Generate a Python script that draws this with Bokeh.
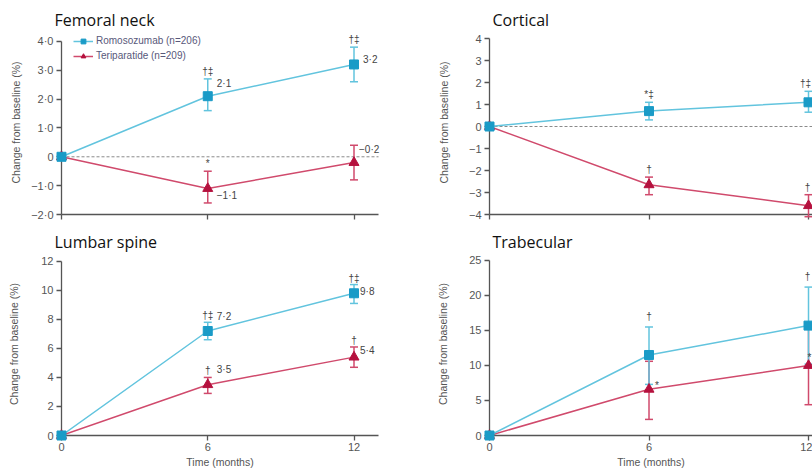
import math
from bokeh.plotting import figure
from bokeh.models import (ColumnDataSource, FixedTicker, Legend, LegendItem,
                          Range1d, LinearAxis)
from bokeh.layouts import row, column
from bokeh.embed import file_html
from bokeh.resources import INLINE
from bokeh.core.properties import value

# ---------------- data ----------------
times = [0, 6, 12]
romo_name = "Romosozumab (n=206)"
teri_name = "Teriparatide (n=209)"
x_ticks = [0, 6, 12]
x_tick_labels = ["0", "6", "12"]

# Femoral neck
fn_romo = [0, 2.1, 3.2]
fn_romo_lo = [0, 1.6, 2.6]
fn_romo_hi = [0, 2.7, 3.8]
fn_teri = [0, -1.1, -0.2]
fn_teri_lo = [0, -1.6, -0.8]
fn_teri_hi = [0, -0.5, 0.4]
fn_romo_sig = ["", "†‡", "†‡"]
fn_teri_sig = ["", "*", ""]
fn_romo_val = ["", "2·1", "3·2"]
fn_teri_val = ["", "−1·1", "−0·2"]
fn_yticks = [-2, -1, 0, 1, 2, 3, 4]
fn_yticklabels = ["−2·0", "−1·0", "0", "1·0", "2·0", "3·0", "4·0"]

# Cortical
co_romo = [0, 0.7, 1.1]
co_romo_lo = [0, 0.3, 0.65]
co_romo_hi = [0, 1.1, 1.6]
co_teri = [0, -2.65, -3.6]
co_teri_lo = [0, -3.1, -4.1]
co_teri_hi = [0, -2.3, -3.1]
co_romo_sig = ["", "*‡", "†‡"]
co_teri_sig = ["", "†", "†"]
co_romo_val = ["", "", ""]
co_teri_val = ["", "", ""]
co_yticks = [-4, -3, -2, -1, 0, 1, 2, 3, 4]
co_yticklabels = ["−4", "−3", "−2", "−1", "0", "1", "2", "3", "4"]

# Lumbar spine
ls_romo = [0, 7.2, 9.8]
ls_romo_lo = [0, 6.6, 9.1]
ls_romo_hi = [0, 7.8, 10.4]
ls_teri = [0, 3.5, 5.4]
ls_teri_lo = [0, 2.9, 4.7]
ls_teri_hi = [0, 4.0, 6.1]
ls_romo_sig = ["", "†‡", "†‡"]
ls_teri_sig = ["", "†", "†"]
ls_romo_val = ["", "7·2", "9·8"]
ls_teri_val = ["", "3·5", "5·4"]
ls_yticks = [0, 2, 4, 6, 8, 10, 12]
ls_yticklabels = ["0", "2", "4", "6", "8", "10", "12"]

# Trabecular
tb_romo = [0, 11.5, 15.7]
tb_romo_lo = [0, 7.3, 10.2]
tb_romo_hi = [0, 15.5, 21.2]
tb_teri = [0, 6.6, 10.0]
tb_teri_lo = [0, 2.3, 4.4]
tb_teri_hi = [0, 10.6, 15.6]
tb_romo_sig = ["", "†", "†"]
tb_teri_sig = ["", "", ""]
tb_romo_val = ["", "", ""]
tb_teri_val = ["", "*", "*"]
tb_yticks = [0, 5, 10, 15, 20, 25]
tb_yticklabels = ["0", "5", "10", "15", "20", "25"]

# ---------------- style ----------------
ROMO_MARK = "#1a9bc7"
ROMO_LINE = "#62c4de"
TERI_MARK = "#b5113e"
TERI_LINE = "#d04a6c"
AXIS_COL = "#555555"
TXT_COL = "#555555"
SANS = "Liberation Sans"
TITLE_FONT = "Open Sans"


def keep(labels):
    return [i for i, s in enumerate(labels) if s]


def make_panel(title, xr, yr, width, height, borders, title_offset,
               data, yticks, yticklabels, show_x, zero_line, ylab_standoff,
               sig_dy, sig_dx, romo_off, teri_off, legend_loc=None):
    bl, br, bt, bb = borders
    p = figure(width=width, height=height, output_backend="svg",
               toolbar_location=None, x_range=Range1d(*xr), y_range=Range1d(*yr),
               x_axis_type=None, y_axis_type=None,
               min_border_left=bl, min_border_right=br,
               min_border_top=bt, min_border_bottom=bb)
    p.outline_line_color = None
    p.background_fill_color = "white"
    p.border_fill_color = "white"
    p.xgrid.visible = False
    p.ygrid.visible = False

    p.title.text = title
    p.title.text_font = TITLE_FONT
    p.title.text_font_size = "16px"
    p.title.text_font_style = "normal"
    p.title.text_color = "#111111"
    p.title.align = "left"
    p.title.offset = title_offset
    p.title.standoff = 0

    yax = LinearAxis(bounds=(yticks[0], yticks[-1]),
                     ticker=FixedTicker(ticks=yticks),
                     major_label_overrides={t: l for t, l in zip(yticks, yticklabels)},
                     axis_label="Change from baseline (%)")
    xax = LinearAxis(ticker=FixedTicker(ticks=x_ticks),
                     major_label_overrides={t: l for t, l in zip(x_ticks, x_tick_labels)})
    for ax in (yax, xax):
        ax.axis_line_color = AXIS_COL
        ax.axis_line_width = 1.3
        ax.major_tick_line_color = AXIS_COL
        ax.major_tick_line_width = 1.3
        ax.major_tick_out = 5
        ax.major_tick_in = 0
        ax.minor_tick_line_color = None
        ax.major_label_text_font = SANS
        ax.major_label_text_font_size = "11px"
        ax.major_label_text_color = TXT_COL
        ax.axis_label_text_font = SANS
        ax.axis_label_text_font_size = "10.5px"
        ax.axis_label_text_font_style = "normal"
        ax.axis_label_text_color = TXT_COL
    yax.major_label_standoff = 3
    yax.axis_label_standoff = ylab_standoff
    if show_x:
        xax.major_label_standoff = 2
        xax.axis_label = "Time (months)"
        xax.axis_label_standoff = 2
    else:
        # ticks only on the upper panels: labels are not drawn
        xax.major_label_text_color = None
        xax.major_label_text_font_size = "1px"
        xax.major_label_standoff = 0
    p.add_layout(yax, "left")
    p.add_layout(xax, "below")

    (r, rlo, rhi, t, tlo, thi, rsig, tsig, rval, tval) = data

    if zero_line:
        p.ray(x=[times[0]], y=[0], length=0, angle=0, line_color="#8a8a8a",
              line_width=1, line_dash="3 2", level="underlay")

    tl = p.line(times, t, line_color=TERI_LINE, line_width=1.5)
    rl = p.line(times, r, line_color=ROMO_LINE, line_width=1.5)

    # error bars (95% CI)
    for lo, hi, lcol in ((tlo, thi, TERI_LINE), (rlo, rhi, ROMO_LINE)):
        idx = [i for i in range(len(times)) if hi[i] > lo[i]]
        es = ColumnDataSource(dict(x=[times[i] for i in idx], lo=[lo[i] for i in idx],
                                   hi=[hi[i] for i in idx]))
        p.segment(x0="x", y0="lo", x1="x", y1="hi", source=es, line_color=lcol,
                  line_width=1.5, level="overlay")
        p.scatter(x="x", y="lo", source=es, marker="dash", size=8, line_color=lcol,
                  line_width=1.5, level="overlay")
        p.scatter(x="x", y="hi", source=es, marker="dash", size=8, line_color=lcol,
                  line_width=1.5, level="overlay")

    # markers
    ts = p.scatter(times, t, marker="triangle", size=10, fill_color=TERI_MARK,
                   line_color=TERI_MARK, level="overlay")
    rs = p.scatter(times, r, marker="square", size=9, fill_color=ROMO_MARK,
                   line_color=ROMO_MARK, level="overlay")

    # significance symbols above upper CI
    for hi, sig, sdx in ((rhi, rsig, sig_dx[0]), (thi, tsig, sig_dx[1])):
        idx = keep(sig)
        if not idx:
            continue
        src = ColumnDataSource(dict(x=[times[i] for i in idx], y=[hi[i] for i in idx],
                                    s=[sig[i] for i in idx], dx=[sdx[i] for i in idx]))
        p.text(x="x", y="y", text="s", source=src, text_align="center",
               text_baseline="bottom", x_offset="dx", y_offset=sig_dy, level="overlay",
               text_font=value(SANS), text_font_size="10px", text_color="#444444")

    # value labels
    for vals, lab, off in ((r, rval, romo_off), (t, tval, teri_off)):
        idx = keep(lab)
        if not idx:
            continue
        src = ColumnDataSource(dict(x=[times[i] for i in idx], y=[vals[i] for i in idx],
                                    s=[lab[i] for i in idx],
                                    dx=[off[i][0] for i in idx], dy=[off[i][1] for i in idx]))
        p.text(x="x", y="y", text="s", source=src, x_offset="dx", y_offset="dy",
               text_align="left", text_baseline="middle", level="overlay",
               text_font=value(SANS), text_font_size="10px", text_color="#444444")

    if legend_loc is not None:
        leg = Legend(items=[LegendItem(label=romo_name, renderers=[rl, rs]),
                            LegendItem(label=teri_name, renderers=[tl, ts])],
                     location=legend_loc, orientation="vertical",
                     label_text_font=SANS, label_text_font_size="10px",
                     label_text_color="#58587a", glyph_width=20, glyph_height=12,
                     label_height=12, label_standoff=3, spacing=3, padding=0, margin=0,
                     border_line_color=None, background_fill_alpha=0)
        p.add_layout(leg, "center")
    return p


zero = (0, 0)
nodx = [0, 0, 0]
p1 = make_panel("Femoral neck", (0, 13.005), (-2, 4.377), 404, 228, (61, 26, 30, 12), -7,
                (fn_romo, fn_romo_lo, fn_romo_hi, fn_teri, fn_teri_lo, fn_teri_hi,
                 fn_romo_sig, fn_teri_sig, fn_romo_val, fn_teri_val),
                fn_yticks, fn_yticklabels, False, True, 6, -2, (nodx, nodx),
                [zero, (9, -13), (9, -5)], [zero, (9, 7), (5, -13)],
                legend_loc=(12, 152.5))
p2 = make_panel("Cortical", (0, 12.15), (-4, 4.364), 408, 228, (85, 0, 30, 14), 3,
                (co_romo, co_romo_lo, co_romo_hi, co_teri, co_teri_lo, co_teri_hi,
                 co_romo_sig, co_teri_sig, co_romo_val, co_teri_val),
                co_yticks, co_yticklabels, False, True, 16, -2, ([0, 0, -3], [0, 0, -1]),
                [zero, zero, zero], [zero, zero, zero])
p3 = make_panel("Lumbar spine", (0, 13.005), (0, 12.61), 404, 244, (61, 26, 23, 36), -7,
                (ls_romo, ls_romo_lo, ls_romo_hi, ls_teri, ls_teri_lo, ls_teri_hi,
                 ls_romo_sig, ls_teri_sig, ls_romo_val, ls_teri_val),
                ls_yticks, ls_yticklabels, True, False, 18, -1, (nodx, nodx),
                [zero, (9, -15), (6, -2)], [zero, (9, -15), (6, -7)])
p4 = make_panel("Trabecular", (0, 12.15), (0, 26.14), 408, 244, (85, 0, 23, 37), 3,
                (tb_romo, tb_romo_lo, tb_romo_hi, tb_teri, tb_teri_lo, tb_teri_hi,
                 tb_romo_sig, tb_teri_sig, tb_romo_val, tb_teri_val),
                tb_yticks, tb_yticklabels, True, False, 17, -5, ([0, 0, -1], nodx),
                [zero, zero, zero], [zero, (6, -4), (-1, -8)])

layout = column(row(p1, p2, spacing=0), row(p3, p4, spacing=0), spacing=0)
open("out.html", "w").write(file_html(layout, INLINE))
